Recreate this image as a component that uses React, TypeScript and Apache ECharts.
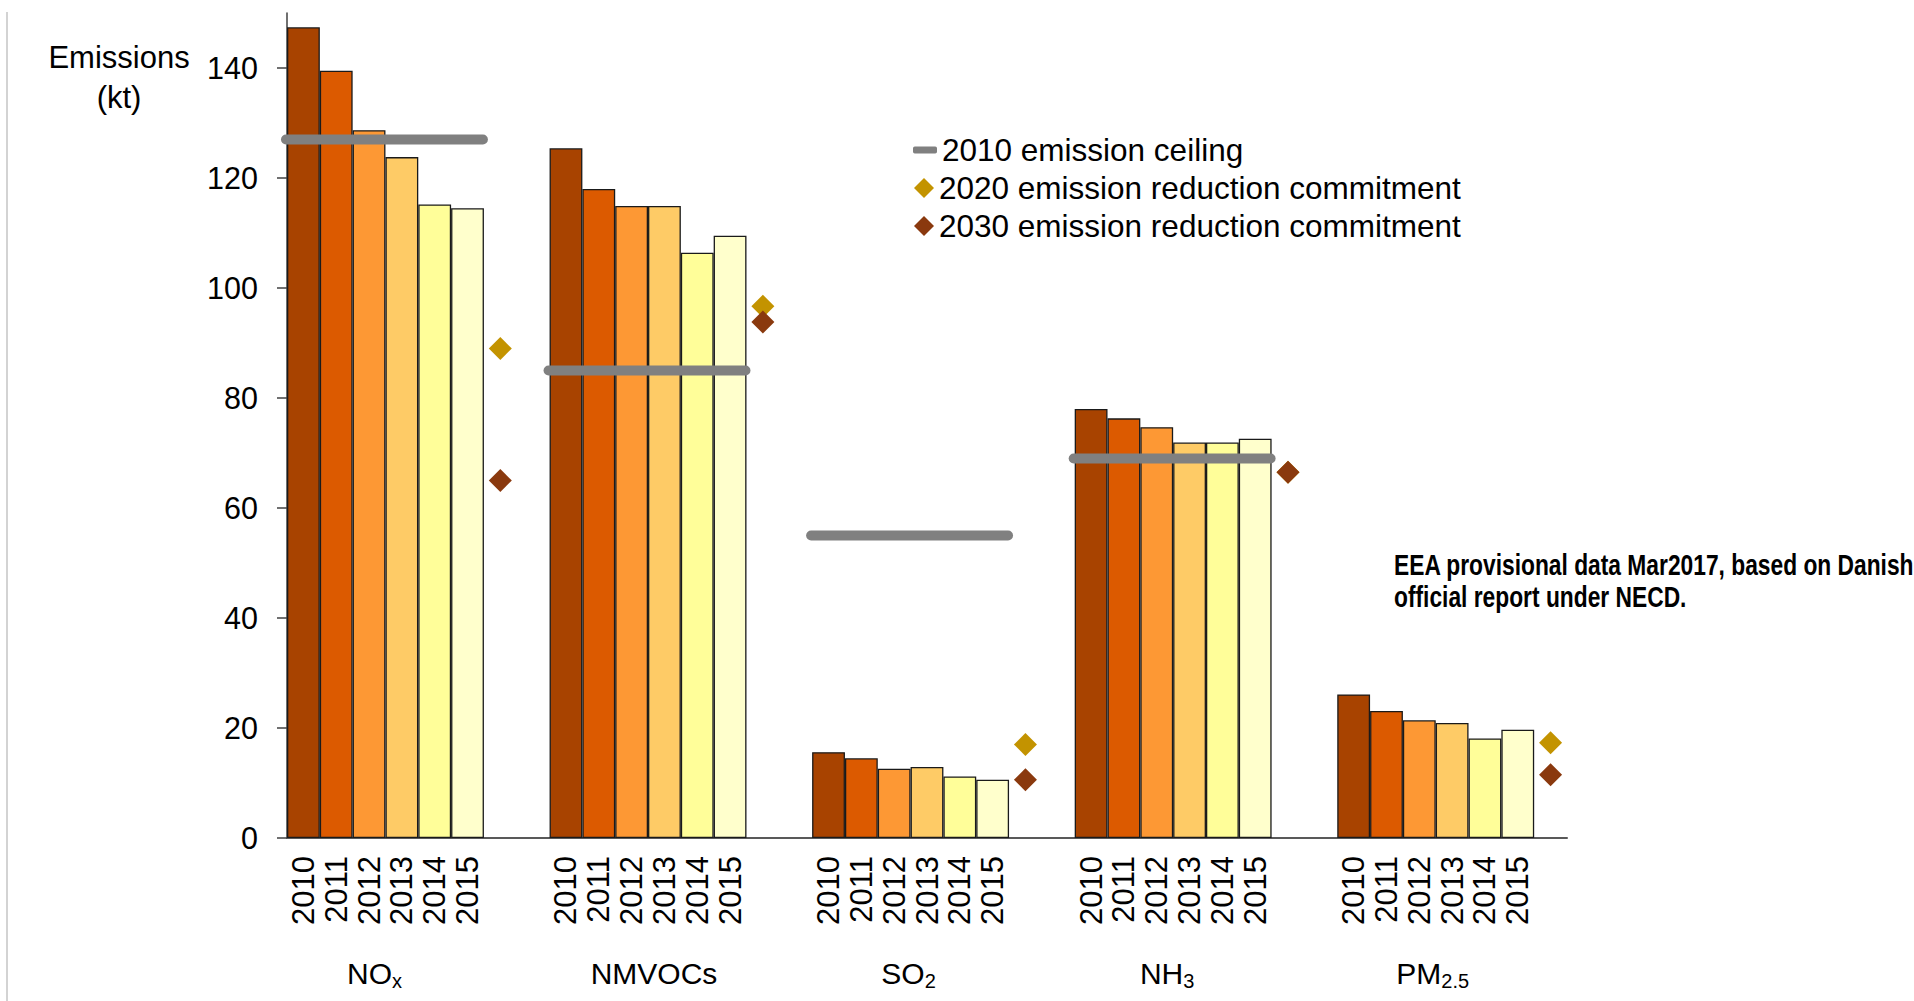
import React, { useEffect, useRef } from "react";
import * as echarts from "echarts";

// ---------- data ----------
const pollutants = ["NOx", "NMVOCs", "SO2", "NH3", "PM2.5"];
const pollutantMain = ["NO", "NMVOCs", "SO", "NH", "PM"];
const pollutantSub = ["x", "", "2", "3", "2.5"];
const years = ["2010", "2011", "2012", "2013", "2014", "2015"];

const noxValues = [147.4, 139.5, 128.7, 123.8, 115.2, 114.5];
const nmvocValues = [125.4, 118.0, 114.9, 114.9, 106.4, 109.5];
const so2Values = [15.6, 14.5, 12.6, 12.9, 11.2, 10.6];
const nh3Values = [78.0, 76.3, 74.7, 71.9, 71.9, 72.6];
const pm25Values = [26.1, 23.1, 21.4, 20.9, 18.1, 19.7];

const ceiling2010 = [127, 85, 55, 69, null];
const commitment2020 = [89.0, 96.7, 17.0, 66.5, 17.3];
const commitment2030 = [65.0, 93.8, 10.6, 66.5, 11.5];

const yTickValues = [0, 20, 40, 60, 80, 100, 120, 140];

// ---------- styles / layout ----------
const yearColors = ["#A84300", "#DC5A00", "#FD9834", "#FECB66", "#FFFE99", "#FFFFCC"];
const ceilingColor = "#808080";
const color2020 = "#C39300";
const color2030 = "#8A390E";
const FONT = "Liberation Sans, Arial, sans-serif";
const labelShift = [-11, 6, -2, -6, -3];

const L_CEIL = "2010 emission ceiling";
const L_2020 = "2020 emission reduction commitment";
const L_2030 = "2030 emission reduction commitment";

export default function App() {
  const ref = useRef<HTMLDivElement>(null);

  useEffect(() => {
    if (!ref.current) return;
    const chart = echarts.init(ref.current, undefined, { renderer: "svg" });

    const groupValues = [noxValues, nmvocValues, so2Values, nh3Values, pm25Values];

    // build 39 category slots: 6 bars + target slot + gap slot per pollutant
    const categories: string[] = [];
    const barData: any[] = [];
    const d2020: any[] = [];
    const d2030: any[] = [];
    const ceilData: any[] = [];
    pollutants.forEach((p, g) => {
      const start = categories.length;
      years.forEach((y, i) => {
        categories.push(p + " " + y);
        barData.push({ value: groupValues[g][i], itemStyle: { color: yearColors[i] } });
        d2020.push("-");
        d2030.push("-");
      });
      const end = categories.length - 1;
      if (ceiling2010[g] != null) ceilData.push([start, end, ceiling2010[g]]);
      categories.push(p + " target");
      barData.push("-");
      d2020.push(commitment2020[g]);
      d2030.push(commitment2030[g]);
      if (g < pollutants.length - 1) {
        categories.push(p + " gap");
        barData.push("-");
        d2020.push("-");
        d2030.push("-");
      }
    });

    // 40 boundary points for the pollutant name axis
    const nameSlots: string[] = [];
    for (let i = 0; i <= categories.length; i++) nameSlots.push("b" + i);
    const rich: any = {};
    pollutants.forEach((_p, g) => {
      const d = labelShift[g];
      const hasSub = !!pollutantSub[g];
      rich["n" + g] = {
        fontSize: 30,
        lineHeight: 36,
        color: "#000",
        fontFamily: FONT,
        padding: [0, !hasSub && d < 0 ? -2 * d : 0, 0, d > 0 ? 2 * d : 0],
      };
      rich["s" + g] = {
        fontSize: 20,
        lineHeight: 20,
        verticalAlign: "bottom",
        color: "#000",
        fontFamily: FONT,
        padding: [0, d < 0 ? -2 * d : 0, 0, 0],
      };
    });
    const nameAt = (index: number) => {
      if ((index - 3) % 8 !== 0) return "";
      const g = (index - 3) / 8;
      if (g < 0 || g >= pollutants.length) return "";
      const sub = pollutantSub[g] ? "{s" + g + "|" + pollutantSub[g] + "}" : "";
      return "{n" + g + "|" + pollutantMain[g] + "}" + sub;
    };

    const legendText = { fontSize: 31.5, lineHeight: 34, color: "#000", fontFamily: FONT };

    const option: any = {
      animation: false,
      backgroundColor: "#ffffff",
      textStyle: { fontFamily: FONT },
      grid: { left: 287, right: 347, top: 13, bottom: 163, containLabel: false },
      xAxis: [
        {
          type: "category",
          data: categories,
          position: "bottom",
          axisLine: { show: true, lineStyle: { color: "#595959", width: 2 } },
          axisTick: { show: false },
          axisLabel: {
            interval: 0,
            rotate: 90,
            margin: 18,
            fontSize: 31,
            color: "#000",
            fontFamily: FONT,
            formatter: (v: string) => {
              const part = v.split(" ")[1];
              return /^\d{4}$/.test(part) ? part : "";
            },
          },
          splitLine: { show: false },
        },
        {
          type: "category",
          data: nameSlots,
          position: "bottom",
          boundaryGap: false,
          axisLine: { show: false },
          axisTick: { show: false },
          axisLabel: {
            interval: 0,
            margin: 117,
            fontSize: 30,
            lineHeight: 36,
            color: "#000",
            fontFamily: FONT,
            formatter: (_v: string, index: number) => nameAt(index),
            rich: rich,
          },
          splitLine: { show: false },
        },
      ],
      yAxis: {
        type: "value",
        min: 0,
        max: 150,
        interval: 20,
        axisLine: { show: true, lineStyle: { color: "#404040", width: 1.5 } },
        axisTick: { show: true, length: 10, customValues: yTickValues, lineStyle: { color: "#404040", width: 1.5 } },
        axisLabel: {
          customValues: yTickValues,
          margin: 29,
          fontSize: 30.5,
          color: "#000",
          fontFamily: FONT,
          formatter: (v: number) => (v > 140 ? "" : String(v)),
        },
        splitLine: { show: false },
      },
      legend: [
        {
          data: [{ name: L_CEIL, icon: "roundRect" }],
          left: 913,
          top: 133,
          padding: 0,
          itemWidth: 24,
          itemHeight: 7,
          selectedMode: false,
          textStyle: legendText,
        },
        {
          data: [{ name: L_2020, icon: "diamond" }],
          left: 914,
          top: 171,
          padding: 0,
          itemWidth: 20,
          itemHeight: 20,
          selectedMode: false,
          itemStyle: { opacity: 1 },
          textStyle: legendText,
        },
        {
          data: [{ name: L_2030, icon: "diamond" }],
          left: 914,
          top: 209,
          padding: 0,
          itemWidth: 20,
          itemHeight: 20,
          selectedMode: false,
          itemStyle: { opacity: 1 },
          textStyle: legendText,
        },
      ],
      series: [
        {
          name: "Emissions",
          type: "bar",
          xAxisIndex: 0,
          data: barData,
          barCategoryGap: "0%",
          barGap: "0%",
          itemStyle: { borderColor: "#1a1a1a", borderWidth: 1.3 },
          emphasis: { disabled: true },
          z: 2,
        },
        {
          name: L_CEIL,
          type: "custom",
          xAxisIndex: 0,
          data: ceilData,
          encode: { x: [0, 1], y: 2 },
          itemStyle: { color: ceilingColor },
          z: 3,
          renderItem: (_params: any, api: any) => {
            const s = api.value(0);
            const e = api.value(1);
            const v = api.value(2);
            const p1 = api.coord([s, v]);
            const p2 = api.coord([e, v]);
            const w = api.size([1, 0])[0];
            return {
              type: "line",
              shape: { x1: p1[0] - w / 2 - 1, y1: p1[1], x2: p2[0] + w / 2 - 1, y2: p2[1] },
              style: { stroke: ceilingColor, lineWidth: 10, lineCap: "round" },
            };
          },
        },
        {
          name: L_2020,
          type: "scatter",
          xAxisIndex: 0,
          data: d2020,
          symbol: "diamond",
          symbolSize: [23, 23],
          itemStyle: { color: color2020, opacity: 1 },
          emphasis: { disabled: true },
          z: 4,
        },
        {
          name: L_2030,
          type: "scatter",
          xAxisIndex: 0,
          data: d2030,
          symbol: "diamond",
          symbolSize: [23, 23],
          itemStyle: { color: color2030, opacity: 1 },
          emphasis: { disabled: true },
          z: 5,
        },
      ],
      graphic: [
        {
          type: "line",
          shape: { x1: 7, y1: 12, x2: 7, y2: 1001 },
          style: { stroke: "#c4c4c4", lineWidth: 1.5 },
          silent: true,
        },
        {
          type: "text",
          x: 119,
          y: 77,
          silent: true,
          style: {
            text: "Emissions\n(kt)",
            fontSize: 31,
            lineHeight: 40,
            fontFamily: FONT,
            fill: "#000",
            align: "center",
            verticalAlign: "middle",
          },
        },
        {
          type: "text",
          x: 1394,
          y: 581,
          scaleX: 0.76,
          silent: true,
          style: {
            text: "EEA provisional data Mar2017, based on Danish\nofficial report under NECD.",
            fontSize: 30,
            fontWeight: "bold",
            lineHeight: 32,
            fontFamily: FONT,
            fill: "#000",
            align: "left",
            verticalAlign: "middle",
          },
        },
      ],
    };

    chart.setOption(option);
    return () => chart.dispose();
  }, []);

  return (
    <div
      ref={ref}
      style={{ position: "absolute", left: 0, top: 0, width: 1914, height: 1001, background: "#fff" }}
    />
  );
}
